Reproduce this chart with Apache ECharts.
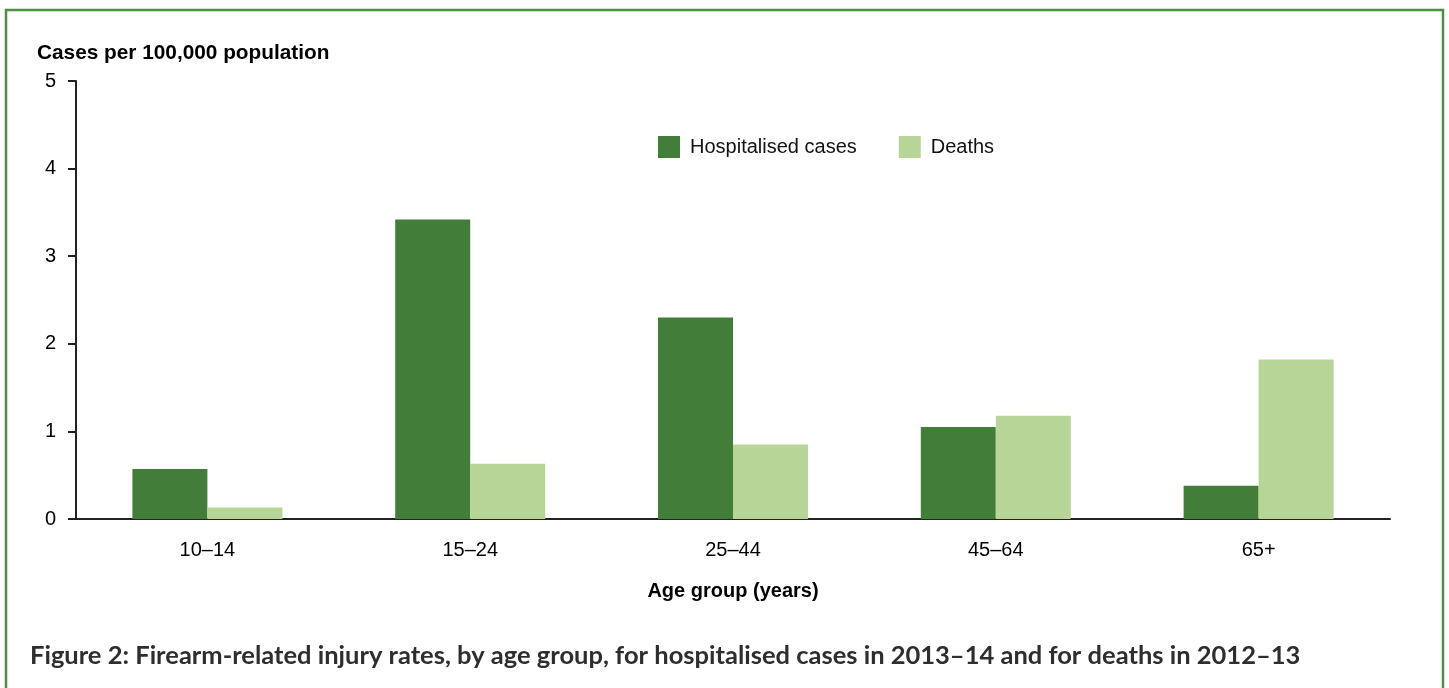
<!DOCTYPE html>
<html>
<head>
<meta charset="utf-8">
<script src="https://cdn.jsdelivr.net/npm/echarts@6/dist/echarts.min.js"></script>
<style>
  html, body { margin: 0; padding: 0; background: #fff; }
  #chart { width: 1449px; height: 688px; }
</style>
</head>
<body>
<div id="chart"></div>
<script>
// age groups along the x axis
const ageGroups = ['10–14', '15–24', '25–44', '45–64', '65+'];
// rates per 100,000 population
const hospitalised = [0.57, 3.42, 2.30, 1.05, 0.38];
const deaths = [0.13, 0.63, 0.85, 1.18, 1.82];
const yTicks = [0, 1, 2, 3, 4, 5];

const darkGreen = '#427e3a';
const lightGreen = '#b7d597';

displayFirearmChart();

function displayFirearmChart() {
    let myChart = echarts.init(document.getElementById('chart'));

    let option = {
        animation: false,
        title: [
            {
                text: 'Cases per 100,000 population',
                left: 37,
                top: 43,
                padding: 0,
                textStyle: {
                    fontFamily: 'Liberation Sans, Arial, sans-serif',
                    fontSize: 20.8,
                    fontWeight: 'bold',
                    color: '#000'
                }
            },
            {
                text: 'Figure 2: Firearm-related injury rates, by age group, for hospitalised cases in 2013–14 and for deaths in 2012–13',
                left: 30,
                top: 643,
                padding: 0,
                textStyle: {
                    fontFamily: 'Lato, sans-serif',
                    fontSize: 25.5,
                    fontWeight: 'bold',
                    color: '#2e2e2e'
                }
            }
        ],
        graphic: [
            {
                type: 'rect',
                shape: { x: 6, y: 10, width: 1437, height: 700 },
                style: { fill: 'none', stroke: '#4f8c44', lineWidth: 2.5 },
                silent: true
            }
        ],
        legend: {
            left: 658,
            top: 136,
            padding: 0,
            itemWidth: 22,
            itemHeight: 22,
            itemGap: 42,
            icon: 'rect',
            textStyle: {
                fontFamily: 'Liberation Sans, Arial, sans-serif',
                fontSize: 20,
                color: '#111',
                padding: [0, 0, 0, 5]
            },
            data: ['Hospitalised cases', 'Deaths']
        },
        grid: {
            left: 76,
            right: 59,
            top: 81,
            bottom: 169,
            containLabel: false
        },
        xAxis: {
            type: 'category',
            data: ageGroups,
            name: 'Age group (years)',
            nameLocation: 'middle',
            nameGap: 62,
            nameTextStyle: {
                fontFamily: 'Liberation Sans, Arial, sans-serif',
                fontSize: 20,
                fontWeight: 'bold',
                color: '#000'
            },
            axisLine: { lineStyle: { color: '#222', width: 2 } },
            axisTick: { show: false },
            axisLabel: {
                margin: 21,
                fontFamily: 'Liberation Sans, Arial, sans-serif',
                fontSize: 20,
                color: '#000'
            }
        },
        yAxis: {
            type: 'value',
            min: yTicks[0],
            max: yTicks[yTicks.length - 1],
            interval: 1,
            axisLine: { show: true, lineStyle: { color: '#222', width: 2 } },
            axisTick: { show: true, length: 8, lineStyle: { color: '#222', width: 2 } },
            splitLine: { show: false },
            axisLabel: {
                margin: 20,
                fontFamily: 'Liberation Sans, Arial, sans-serif',
                fontSize: 20,
                color: '#000'
            }
        },
        series: [
            {
                name: 'Hospitalised cases',
                type: 'bar',
                data: hospitalised,
                barWidth: 75,
                barGap: '0%',
                itemStyle: { color: darkGreen }
            },
            {
                name: 'Deaths',
                type: 'bar',
                data: deaths,
                barWidth: 75,
                itemStyle: { color: lightGreen }
            }
        ]
    };

    myChart.setOption(option);
}
</script>
</body>
</html>
